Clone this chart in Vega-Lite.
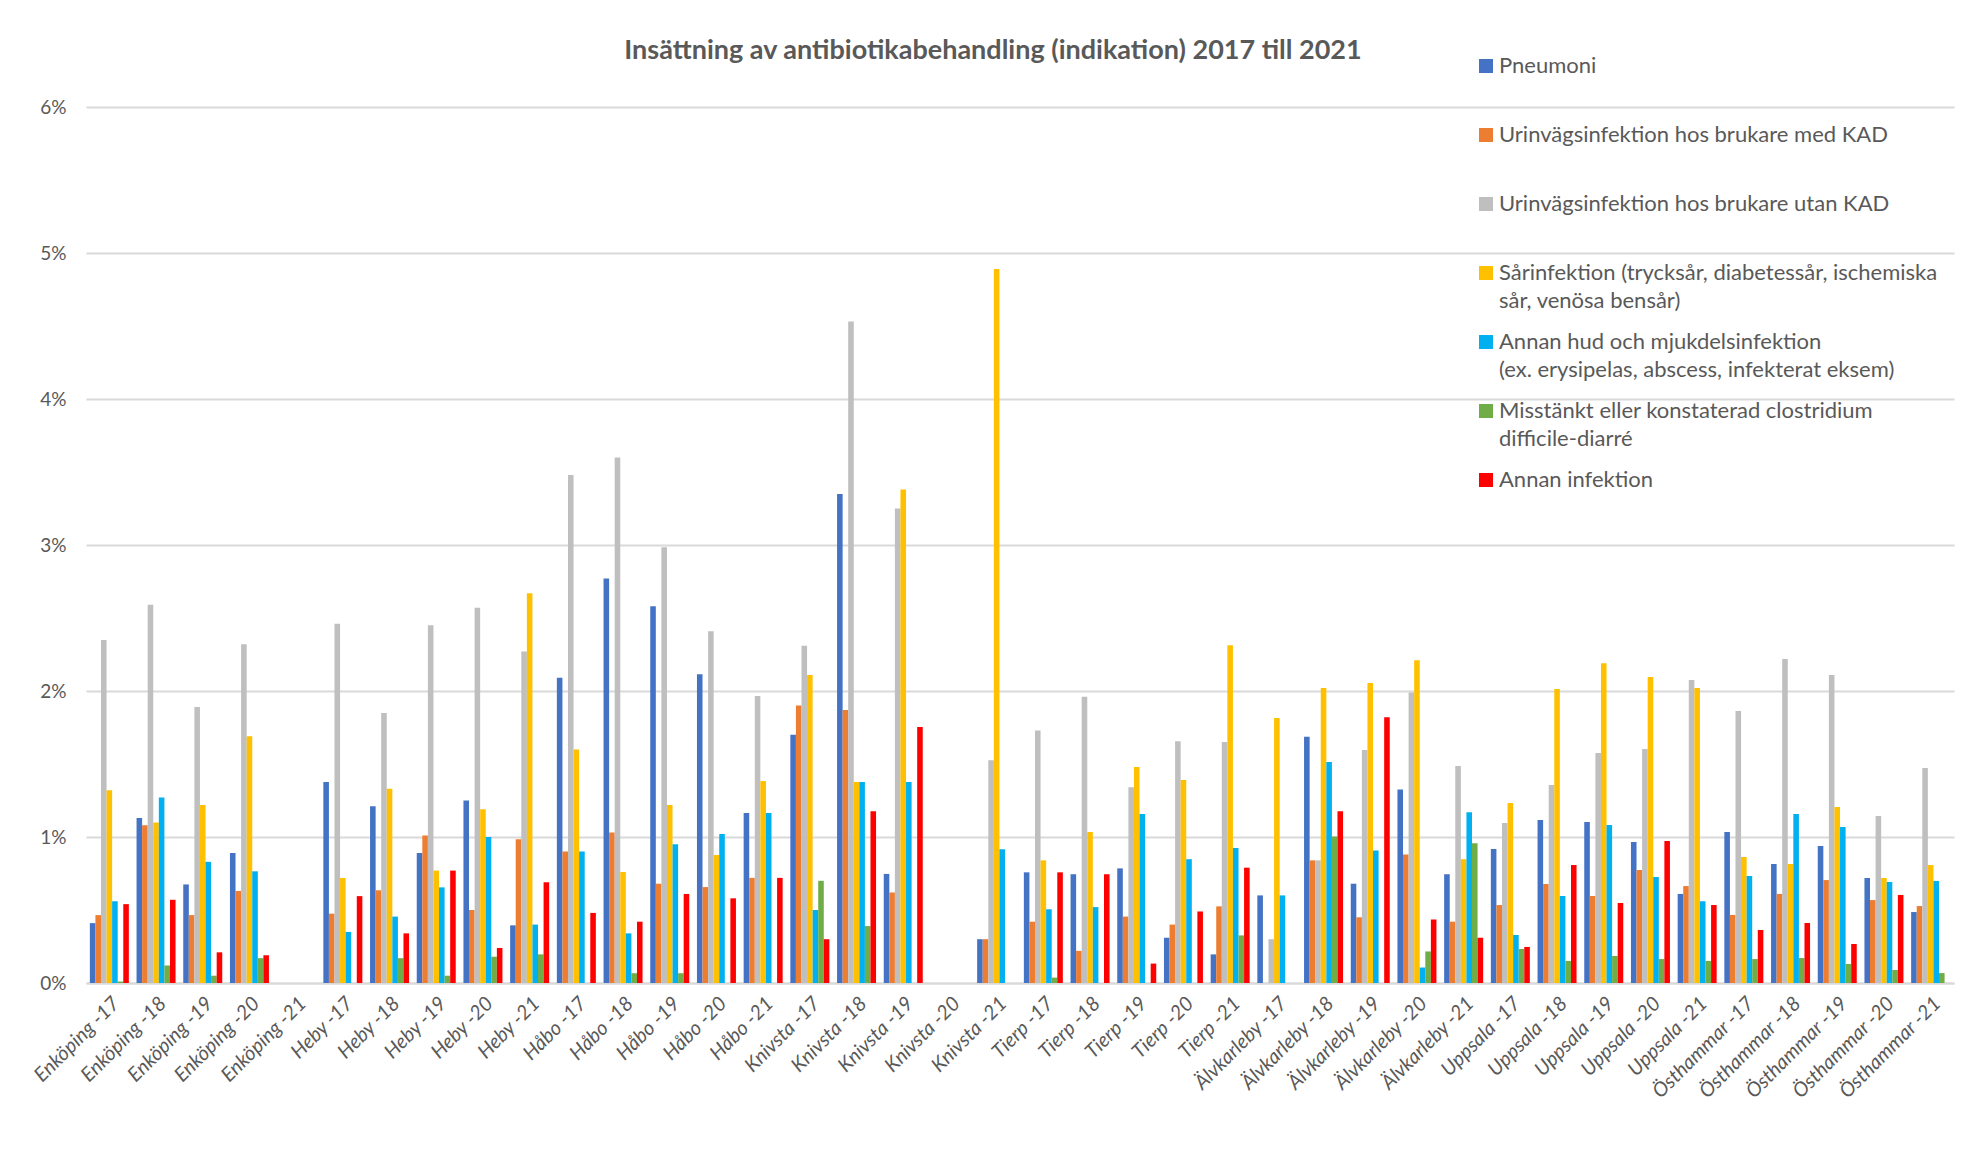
{
  "$schema": "https://vega.github.io/schema/vega-lite/v6.json",
  "width": 1868,
  "height": 876,
  "autosize": {"type": "none"},
  "padding": {"left": 86, "top": 107, "right": 7, "bottom": 169},
  "background": "white",
  "title": {
    "text": "Insättning av antibiotikabehandling (indikation) 2017 till 2021",
    "font": "Lato", "fontSize": 27, "fontWeight": "bold", "color": "#595959",
    "anchor": "middle", "frame": "group", "baseline": "alphabetic", "offset": -31, "dx": -27
  },
  "data": {"values": [
    {"k": "Enköping -17", "P": 0.41, "UM": 0.465, "UU": 2.35, "S": 1.32, "H": 0.56, "C": 0.01, "A": 0.54},
    {"k": "Enköping -18", "P": 1.13, "UM": 1.08, "UU": 2.59, "S": 1.10, "H": 1.27, "C": 0.12, "A": 0.57},
    {"k": "Enköping -19", "P": 0.675, "UM": 0.465, "UU": 1.89, "S": 1.22, "H": 0.83, "C": 0.05, "A": 0.21},
    {"k": "Enköping -20", "P": 0.89, "UM": 0.63, "UU": 2.32, "S": 1.69, "H": 0.765, "C": 0.17, "A": 0.19},
    {"k": "Enköping -21", "P": 0, "UM": 0, "UU": 0, "S": 0, "H": 0, "C": 0, "A": 0},
    {"k": "Heby -17", "P": 1.376, "UM": 0.475, "UU": 2.46, "S": 0.72, "H": 0.35, "C": 0, "A": 0.595},
    {"k": "Heby -18", "P": 1.21, "UM": 0.635, "UU": 1.85, "S": 1.33, "H": 0.455, "C": 0.17, "A": 0.34},
    {"k": "Heby -19", "P": 0.89, "UM": 1.01, "UU": 2.45, "S": 0.77, "H": 0.655, "C": 0.05, "A": 0.77},
    {"k": "Heby -20", "P": 1.25, "UM": 0.50, "UU": 2.57, "S": 1.19, "H": 1.0, "C": 0.18, "A": 0.24},
    {"k": "Heby -21", "P": 0.395, "UM": 0.985, "UU": 2.27, "S": 2.67, "H": 0.40, "C": 0.196, "A": 0.69},
    {"k": "Håbo -17", "P": 2.09, "UM": 0.90, "UU": 3.48, "S": 1.60, "H": 0.90, "C": 0, "A": 0.48},
    {"k": "Håbo -18", "P": 2.77, "UM": 1.03, "UU": 3.60, "S": 0.76, "H": 0.34, "C": 0.067, "A": 0.42},
    {"k": "Håbo -19", "P": 2.58, "UM": 0.68, "UU": 2.985, "S": 1.22, "H": 0.95, "C": 0.067, "A": 0.61},
    {"k": "Håbo -20", "P": 2.115, "UM": 0.657, "UU": 2.41, "S": 0.877, "H": 1.02, "C": 0, "A": 0.58},
    {"k": "Håbo -21", "P": 1.164, "UM": 0.72, "UU": 1.966, "S": 1.384, "H": 1.164, "C": 0, "A": 0.72},
    {"k": "Knivsta -17", "P": 1.70, "UM": 1.90, "UU": 2.31, "S": 2.11, "H": 0.50, "C": 0.70, "A": 0.30},
    {"k": "Knivsta -18", "P": 3.35, "UM": 1.87, "UU": 4.53, "S": 1.376, "H": 1.376, "C": 0.39, "A": 1.176},
    {"k": "Knivsta -19", "P": 0.747, "UM": 0.62, "UU": 3.25, "S": 3.38, "H": 1.376, "C": 0, "A": 1.754},
    {"k": "Knivsta -20", "P": 0, "UM": 0, "UU": 0, "S": 0, "H": 0, "C": 0, "A": 0},
    {"k": "Knivsta -21", "P": 0.30, "UM": 0.30, "UU": 1.526, "S": 4.89, "H": 0.916, "C": 0, "A": 0},
    {"k": "Tierp -17", "P": 0.758, "UM": 0.42, "UU": 1.73, "S": 0.84, "H": 0.505, "C": 0.037, "A": 0.758},
    {"k": "Tierp -18", "P": 0.745, "UM": 0.22, "UU": 1.96, "S": 1.034, "H": 0.52, "C": 0, "A": 0.745},
    {"k": "Tierp -19", "P": 0.785, "UM": 0.455, "UU": 1.34, "S": 1.48, "H": 1.157, "C": 0, "A": 0.133},
    {"k": "Tierp -20", "P": 0.31, "UM": 0.40, "UU": 1.656, "S": 1.39, "H": 0.848, "C": 0, "A": 0.49},
    {"k": "Tierp -21", "P": 0.196, "UM": 0.525, "UU": 1.65, "S": 2.314, "H": 0.924, "C": 0.326, "A": 0.79},
    {"k": "Älvkarleby -17", "P": 0.60, "UM": 0, "UU": 0.30, "S": 1.815, "H": 0.60, "C": 0, "A": 0},
    {"k": "Älvkarleby -18", "P": 1.686, "UM": 0.84, "UU": 0.84, "S": 2.02, "H": 1.513, "C": 1.004, "A": 1.177},
    {"k": "Älvkarleby -19", "P": 0.68, "UM": 0.45, "UU": 1.596, "S": 2.055, "H": 0.908, "C": 0, "A": 1.82},
    {"k": "Älvkarleby -20", "P": 1.326, "UM": 0.88, "UU": 1.99, "S": 2.21, "H": 0.106, "C": 0.216, "A": 0.435},
    {"k": "Älvkarleby -21", "P": 0.745, "UM": 0.42, "UU": 1.486, "S": 0.848, "H": 1.17, "C": 0.957, "A": 0.31},
    {"k": "Uppsala -17", "P": 0.918, "UM": 0.534, "UU": 1.096, "S": 1.233, "H": 0.329, "C": 0.233, "A": 0.247},
    {"k": "Uppsala -18", "P": 1.116, "UM": 0.678, "UU": 1.356, "S": 2.014, "H": 0.596, "C": 0.151, "A": 0.808},
    {"k": "Uppsala -19", "P": 1.103, "UM": 0.596, "UU": 1.575, "S": 2.19, "H": 1.082, "C": 0.185, "A": 0.548},
    {"k": "Uppsala -20", "P": 0.966, "UM": 0.774, "UU": 1.603, "S": 2.096, "H": 0.726, "C": 0.164, "A": 0.973},
    {"k": "Uppsala -21", "P": 0.61, "UM": 0.664, "UU": 2.075, "S": 2.02, "H": 0.56, "C": 0.151, "A": 0.534},
    {"k": "Östhammar -17", "P": 1.034, "UM": 0.466, "UU": 1.863, "S": 0.863, "H": 0.733, "C": 0.164, "A": 0.363},
    {"k": "Östhammar -18", "P": 0.815, "UM": 0.61, "UU": 2.219, "S": 0.815, "H": 1.158, "C": 0.171, "A": 0.411},
    {"k": "Östhammar -19", "P": 0.938, "UM": 0.705, "UU": 2.11, "S": 1.205, "H": 1.068, "C": 0.13, "A": 0.267},
    {"k": "Östhammar -20", "P": 0.719, "UM": 0.568, "UU": 1.144, "S": 0.719, "H": 0.692, "C": 0.089, "A": 0.603},
    {"k": "Östhammar -21", "P": 0.486, "UM": 0.527, "UU": 1.473, "S": 0.808, "H": 0.699, "C": 0.068, "A": 0}
  ]},
  "transform": [{"fold": ["P", "UM", "UU", "S", "H", "C", "A"], "as": ["serie", "v"]}],
  "mark": {"type": "bar"},
  "encoding": {
    "x": {
      "field": "k", "type": "nominal", "sort": null,
      "scale": {"paddingInner": 0.165, "paddingOuter": 0.0825},
      "axis": {
        "title": null, "labelAngle": -45, "labelFont": "Lato", "labelFontSize": 20, "labelFontStyle": "italic",
        "labelColor": "#595959", "ticks": false, "domainColor": "#D9D9D9", "domainWidth": 2,
        "labelPadding": 10, "labelLimit": 300
      }
    },
    "xOffset": {
      "field": "serie", "type": "nominal", "sort": ["P", "UM", "UU", "S", "H", "C", "A"],
      "scale": {"paddingInner": 0, "paddingOuter": 0}
    },
    "y": {
      "field": "v", "type": "quantitative",
      "scale": {"domain": [0, 6], "nice": false},
      "axis": {
        "title": null, "values": [0, 1, 2, 3, 4, 5, 6], "labelExpr": "datum.value + '%'",
        "grid": true, "gridColor": "#D9D9D9", "gridWidth": 2, "domain": false, "ticks": false,
        "labelPadding": 20, "labelFont": "Lato", "labelFontSize": 19, "labelColor": "#595959"
      }
    },
    "color": {
      "field": "serie", "type": "nominal",
      "scale": {
        "domain": ["P", "UM", "UU", "S", "H", "C", "A"],
        "range": ["#4472C4", "#ED7D31", "#BFBFBF", "#FFC000", "#00B0F0", "#70AD47", "#FF0000"]
      },
      "legend": {
        "title": null, "orient": "none", "legendX": 1389, "legendY": -52, "padding": 0,
        "symbolType": "square", "symbolSize": 196, "symbolStrokeWidth": 0, "symbolOpacity": 1,
        "labelFont": "Lato", "labelFontSize": 22, "labelColor": "#595959", "labelLimit": 700,
        "labelOffset": 2, "labelBaseline": "middle", "rowPadding": 19,
        "labelExpr": "datum.label == 'P' ? ['Pneumoni', ''] : datum.label == 'UM' ? ['Urinvägsinfektion hos brukare med KAD', ''] : datum.label == 'UU' ? ['Urinvägsinfektion hos brukare utan KAD', ''] : datum.label == 'S' ? ['Sårinfektion (trycksår, diabetessår, ischemiska', 'sår, venösa bensår)'] : datum.label == 'H' ? ['Annan hud och mjukdelsinfektion', '(ex. erysipelas, abscess, infekterat eksem)'] : datum.label == 'C' ? ['Misstänkt eller konstaterad clostridium', 'difficile-diarré'] : ['Annan infektion', '']",
        "encode": {"labels": {"update": {"lineHeight": {"value": 28}}}}
      }
    }
  },
  "config": {"view": {"stroke": null}}
}
